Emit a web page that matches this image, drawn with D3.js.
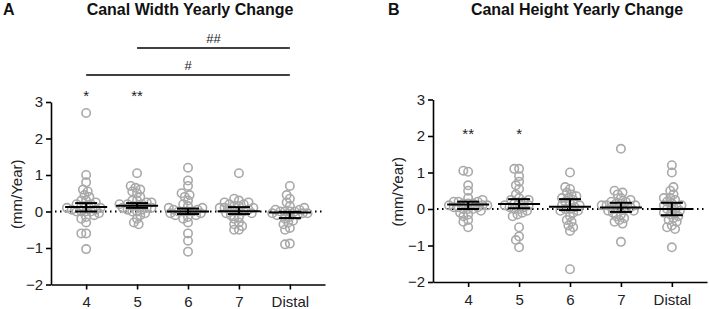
<!DOCTYPE html>
<html>
<head>
<meta charset="utf-8">
<script src="https://cdn.jsdelivr.net/npm/d3@7"></script>
<style>
body { margin: 0; background: #fff; }
text { font-family: Arial, "Liberation Sans", sans-serif; }
</style>
</head>
<body>
<script>
const w = 709
const h = 309

const categories = ['4', '5', '6', '7', 'Distal']
const yTicks = [-2, -1, 0, 1, 2, 3]

// canal width yearly change (mm/Year), one array per level
const width4 = [2.7, 1.0, 0.8, 0.6, 0.55, 0.45, 0.4, 0.3, 0.3, 0.25, 0.2, 0.2, 0.15, 0.15, 0.1, 0.1, 0.05, 0.05, 0, 0, 0, 0, -0.05, -0.1, -0.15, -0.2, -0.3, -0.6, -0.6, -1.03]
const width5 = [1.05, 0.7, 0.65, 0.6, 0.55, 0.5, 0.4, 0.3, 0.3, 0.25, 0.25, 0.2, 0.2, 0.2, 0.15, 0.15, 0.1, 0.1, 0.1, 0.05, 0.05, 0, 0, -0.05, -0.1, -0.2, -0.3, -0.35]
const width6 = [1.2, 0.85, 0.7, 0.5, 0.45, 0.4, 0.3, 0.2, 0.15, 0.1, 0.1, 0.05, 0.05, 0, 0, 0, 0, -0.05, -0.05, -0.1, -0.1, -0.15, -0.2, -0.3, -0.6, -0.8, -1.1]
const width7 = [1.05, 0.35, 0.3, 0.25, 0.25, 0.2, 0.2, 0.15, 0.15, 0.1, 0.1, 0.1, 0.05, 0.05, 0, 0, 0, -0.05, -0.05, -0.1, -0.15, -0.2, -0.3, -0.35, -0.4, -0.5, -0.5]
const widthDistal = [0.7, 0.45, 0.35, 0.25, 0.15, 0.1, 0.05, 0.05, 0, 0, 0, 0, -0.05, -0.05, -0.05, -0.1, -0.1, -0.15, -0.2, -0.25, -0.3, -0.35, -0.45, -0.5, -0.88, -0.9]
const widthMean = [0.12, 0.16, 0.0, 0.01, -0.03]
const widthLow = [0.0, 0.1, -0.07, -0.07, -0.18]
const widthHigh = [0.23, 0.23, 0.08, 0.12, -0.01]

// canal height yearly change (mm/Year)
const height4 = [1.05, 1.02, 0.65, 0.5, 0.3, 0.25, 0.2, 0.2, 0.2, 0.15, 0.15, 0.15, 0.1, 0.1, 0.1, 0.05, 0.05, 0.05, 0, 0, 0, -0.05, -0.1, -0.15, -0.2, -0.3, -0.35, -0.5]
const height5 = [1.1, 1.1, 0.9, 0.75, 0.65, 0.55, 0.4, 0.3, 0.25, 0.25, 0.2, 0.15, 0.15, 0.1, 0.1, 0.05, 0.05, 0, 0, -0.05, -0.1, -0.15, -0.2, -0.5, -0.75, -0.85, -1.05]
const height6 = [1.0, 0.6, 0.55, 0.45, 0.4, 0.35, 0.3, 0.3, 0.25, 0.2, 0.15, 0.1, 0.1, 0.05, 0, 0, -0.05, -0.05, -0.1, -0.2, -0.3, -0.35, -0.45, -0.5, -0.6, -1.65]
const height7 = [1.65, 0.5, 0.45, 0.4, 0.3, 0.25, 0.2, 0.2, 0.15, 0.15, 0.1, 0.1, 0.1, 0.05, 0.05, 0, 0, 0, -0.05, -0.05, -0.1, -0.15, -0.2, -0.25, -0.3, -0.35, -0.4, -0.9]
const heightDistal = [1.2, 1.0, 0.6, 0.5, 0.4, 0.3, 0.3, 0.25, 0.2, 0.15, 0.1, 0.1, 0.05, 0, 0, -0.05, -0.1, -0.1, -0.15, -0.2, -0.25, -0.3, -0.35, -0.45, -0.5, -0.55, -1.05]
const heightMean = [0.12, 0.14, 0.06, 0.04, 0.0]
const heightLow = [0.0, 0.02, -0.03, -0.08, -0.17]
const heightHigh = [0.2, 0.27, 0.27, 0.17, 0.17]

const widthStars = ['*', '**', '', '', '']
const heightStars = ['**', '*', '', '', '']

const svg = d3.select('body')
	.append('svg')
	.attr('width', w)
	.attr('height', h)

// simple beeswarm: push each point sideways until it clears the ones already placed
function swarm(values, y, minDist) {
	const order = values.map((v, i) => i).sort((a, b) => Math.abs(values[a]) - Math.abs(values[b]))
	const placed = []
	const out = new Array(values.length)
	order.forEach(i => {
		const py = y(values[i])
		let dx = 0
		for (let k = 0; k < 200; k++) {
			const cand = (k % 2 === 0 ? 1 : -1) * Math.ceil(k / 2) * 0.8
			const ok = placed.every(p => Math.hypot(p.dx - cand, p.y - py) >= minDist)
			if (ok) { dx = cand; break }
		}
		placed.push({dx: dx, y: py})
		out[i] = {v: values[i], dx: dx}
	})
	return out
}

function drawPanel(o) {
	const g = svg.append('g')

	const x = d3.scalePoint()
		.domain(categories)
		.range([o.left, o.right])
		.padding(0.69)

	const y = d3.scaleLinear()
		.domain([-2, 3])
		.range([o.bottom, o.top])

	// dotted zero line
	g.append('line')
		.attr('x1', o.left + 4)
		.attr('x2', o.right - 2)
		.attr('y1', y(0))
		.attr('y2', y(0))
		.attr('stroke', '#000')
		.attr('stroke-width', 2)
		.attr('stroke-dasharray', '1.5,3.5')

	o.groups.forEach((vals, gi) => {
		const pts = swarm(vals, y, 4.6)
		g.selectAll(null)
			.data(pts)
			.enter()
			.append('circle')
			.attr('cx', d => x(categories[gi]) + d.dx)
			.attr('cy', d => y(d.v))
			.attr('r', 4.2)
			.attr('fill', 'none')
			.attr('stroke', '#a9a9a9')
			.attr('stroke-width', 1.6)
	})

	// mean and error bars
	categories.forEach((c, i) => {
		const cx = x(c)
		g.append('line')
			.attr('x1', cx - 21).attr('x2', cx + 21)
			.attr('y1', y(o.mean[i])).attr('y2', y(o.mean[i]))
			.attr('stroke', '#000').attr('stroke-width', 2)
		g.append('line')
			.attr('x1', cx).attr('x2', cx)
			.attr('y1', y(o.low[i])).attr('y2', y(o.high[i]))
			.attr('stroke', '#000').attr('stroke-width', 2)
		;[o.low[i], o.high[i]].forEach(v => {
			g.append('line')
				.attr('x1', cx - 11).attr('x2', cx + 11)
				.attr('y1', y(v)).attr('y2', y(v))
				.attr('stroke', '#000').attr('stroke-width', 2)
		})
		if (o.stars[i]) {
			g.append('text')
				.attr('x', cx)
				.attr('y', o.starY)
				.attr('text-anchor', 'middle')
				.attr('font-size', '15px')
				.attr('fill', '#222')
				.text(o.stars[i])
		}
	})

	const xAxis = d3.axisBottom(x).tickSize(5).tickSizeOuter(0).tickPadding(7)
	const yAxis = d3.axisLeft(y).tickValues(yTicks).tickFormat(d3.format('d'))
		.tickSize(5).tickSizeOuter(0).tickPadding(3)

	const gx = g.append('g')
		.attr('transform', `translate(0,${o.bottom})`)
		.call(xAxis)
	const gy = g.append('g')
		.attr('transform', `translate(${o.left},0)`)
		.call(yAxis)

	;[gx, gy].forEach(a => {
		a.selectAll('path, line').attr('stroke', '#000').attr('stroke-width', 1.6)
		a.selectAll('text').attr('font-size', '15px').attr('fill', '#222')
			.attr('font-family', 'Arial, "Liberation Sans", sans-serif')
	})

	g.append('text')
		.attr('transform', `translate(${o.labelX},${(o.top + o.bottom) / 2 + 1}) rotate(-90)`)
		.attr('text-anchor', 'middle')
		.attr('font-size', '15px')
		.attr('fill', '#222')
		.text('(mm/Year)')

	g.append('text')
		.attr('x', o.titleX)
		.attr('y', 15)
		.attr('text-anchor', 'middle')
		.attr('font-size', '16px')
		.attr('font-weight', 'bold')
		.attr('fill', '#111')
		.text(o.title)

	g.append('text')
		.attr('x', o.letterX)
		.attr('y', 15)
		.attr('font-size', '16px')
		.attr('font-weight', 'bold')
		.attr('fill', '#111')
		.text(o.letter)

	return {x: x, g: g}
}

const a = drawPanel({
	left: 51, right: 325, top: 102, bottom: 284.5,
	groups: [width4, width5, width6, width7, widthDistal],
	mean: widthMean, low: widthLow, high: widthHigh,
	stars: widthStars, starY: 101,
	labelX: 22, title: 'Canal Width Yearly Change', titleX: 190,
	letter: 'A', letterX: 3
})

drawPanel({
	left: 433, right: 707, top: 99.5, bottom: 282,
	groups: [height4, height5, height6, height7, heightDistal],
	mean: heightMean, low: heightLow, high: heightHigh,
	stars: heightStars, starY: 139,
	labelX: 403, title: 'Canal Height Yearly Change', titleX: 577,
	letter: 'B', letterX: 388
})

// significance brackets on panel A
const brackets = [
	{from: '5', to: 'Distal', label: '##', y: 48},
	{from: '4', to: 'Distal', label: '#', y: 75}
]
brackets.forEach(b => {
	const x1 = a.x(b.from)
	const x2 = a.x(b.to)
	a.g.append('line')
		.attr('x1', x1).attr('x2', x2)
		.attr('y1', b.y).attr('y2', b.y)
		.attr('stroke', '#000').attr('stroke-width', 1.6)
	a.g.append('text')
		.attr('x', (x1 + x2) / 2)
		.attr('y', b.y - 5)
		.attr('text-anchor', 'middle')
		.attr('font-size', '13px')
		.attr('fill', '#222')
		.text(b.label)
})
</script>
</body>
</html>
